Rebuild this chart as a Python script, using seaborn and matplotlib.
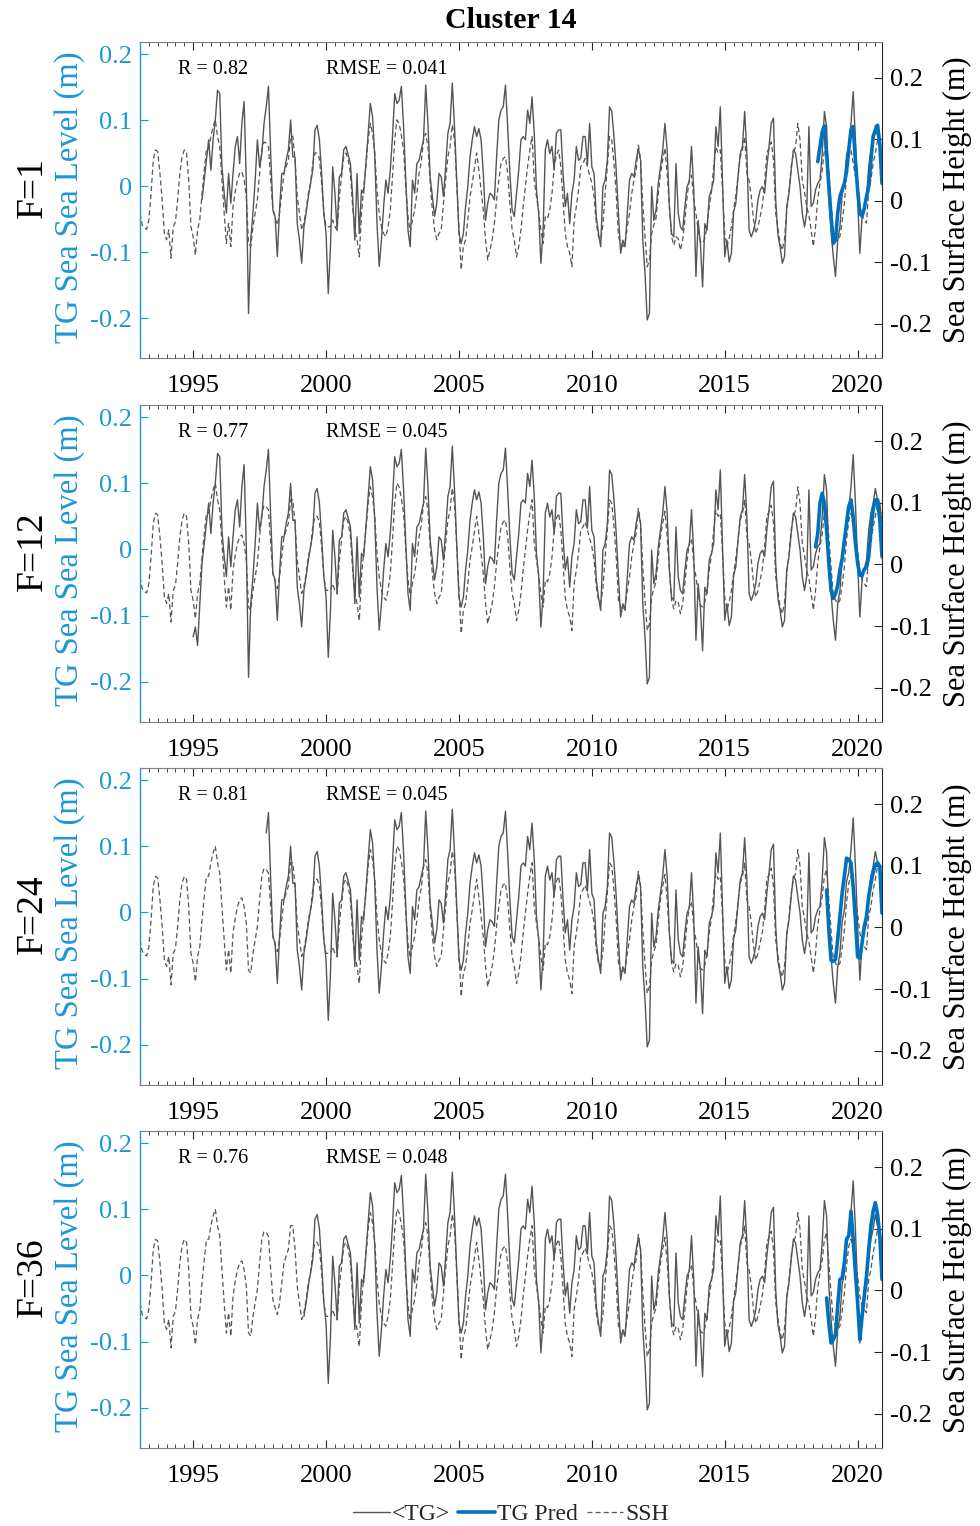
import numpy as np
import pandas as pd
import matplotlib
matplotlib.use("Agg")
import matplotlib.pyplot as plt
import seaborn as sns
from matplotlib.ticker import MultipleLocator, FixedLocator
from matplotlib.lines import Line2D

# ---------------- data (monthly) ----------------
ssh_start = 1993.0   # SSH series starts Jan 1993 (right axis, m)
ssh = [
    -0.020, -0.039, -0.044, -0.046, -0.031, 0.012, 0.067, 0.083, 0.080, 0.045, 0.002, -0.053,
    -0.063, -0.047, -0.093, -0.042, -0.034, 0.002, 0.045, 0.072, 0.083, 0.078, 0.034, -0.042,
    -0.058, -0.088, -0.047, -0.031, 0.012, 0.050, 0.083, 0.083, 0.105, 0.121, 0.132, 0.105,
    0.088, 0.034, -0.020, -0.069, -0.036, -0.074, -0.009, 0.015, 0.034, 0.045, 0.048, 0.034,
    0.007, -0.069, -0.074, -0.042, -0.020, 0.002, 0.045, 0.083, 0.096, 0.094, 0.088, 0.034,
    -0.015, -0.028, -0.039, -0.020, 0.012, 0.045, 0.056, 0.067, 0.105, 0.105, 0.067, 0.007,
    -0.020, -0.047, -0.036, -0.015, 0.012, 0.029, 0.061, 0.078, 0.078, 0.069, 0.029, -0.020,
    -0.042, -0.042, -0.042, -0.031, -0.042, -0.047, 0.007, 0.040, 0.072, 0.078, 0.067, 0.045,
    -0.009, -0.047, -0.063, -0.091, -0.020, 0.023, 0.056, 0.099, 0.126, 0.110, 0.078, 0.018,
    -0.020, -0.042, -0.053, -0.058, -0.042, -0.015, 0.040, 0.099, 0.132, 0.126, 0.107, 0.083,
    0.023, -0.025, -0.050, -0.031, -0.015, 0.012, 0.045, 0.064, 0.099, 0.110, 0.088, 0.029,
    -0.015, -0.047, -0.063, -0.053, -0.047, -0.004, 0.034, 0.072, 0.088, 0.124, 0.099, 0.029,
    -0.042, -0.112, -0.074, -0.063, -0.031, 0.007, 0.029, 0.053, 0.078, 0.050, 0.018, -0.015,
    -0.063, -0.096, -0.080, -0.063, -0.036, 0.002, 0.034, 0.061, 0.069, 0.072, 0.045, -0.004,
    -0.047, -0.063, -0.091, -0.074, -0.047, -0.009, 0.023, 0.056, 0.083, 0.105, 0.034, 0.007,
    -0.017, -0.047, -0.069, -0.025, -0.028, -0.015, 0.012, 0.056, 0.075, 0.083, 0.056, 0.002,
    -0.053, -0.074, -0.085, -0.107, -0.031, -0.009, 0.018, 0.056, 0.061, 0.069, 0.056, 0.042,
    0.029, 0.007, -0.036, -0.058, -0.063, -0.039, 0.012, 0.056, 0.105, 0.099, 0.061, 0.012,
    -0.058, -0.069, -0.074, -0.069, -0.042, -0.020, 0.012, 0.034, 0.050, 0.091, 0.067, -0.004,
    -0.058, -0.107, -0.096, -0.053, -0.039, -0.028, 0.012, 0.045, 0.067, 0.086, 0.045, -0.009,
    -0.058, -0.072, -0.058, -0.061, -0.080, -0.063, -0.031, 0.007, 0.034, 0.042, 0.002, -0.020,
    -0.047, -0.066, -0.069, -0.061, -0.042, -0.009, 0.015, 0.056, 0.088, 0.078, 0.083, 0.018,
    -0.053, -0.074, -0.061, -0.042, -0.015, 0.010, 0.040, 0.072, 0.083, 0.105, 0.045, 0.034,
    0.007, -0.031, -0.053, -0.042, -0.025, -0.007, 0.029, 0.078, 0.086, 0.096, 0.067, -0.020,
    -0.044, -0.069, -0.080, -0.061, -0.015, 0.015, 0.056, 0.078, 0.088, 0.126, 0.099, 0.034,
    0.015, -0.009, -0.023, -0.047, -0.074, -0.042, 0.004, 0.029, 0.050, 0.083, 0.094, 0.045,
    -0.004, -0.050, -0.058, -0.063, -0.058, -0.034, -0.004, 0.040, 0.072, 0.083, 0.061, 0.040,
    0.023, -0.009, -0.025, -0.031, -0.036, 0.018, 0.034, 0.061, 0.078, 0.099, 0.094, 0.083,
]

tg_start = 1995.0    # <TG> series starts Jan 1995 (left axis, m)
tg = [
    -0.132, -0.117, -0.145, -0.082, -0.021, 0.009, 0.039, 0.070, 0.024, 0.070, 0.100, 0.145,
    0.140, 0.029, -0.011, -0.041, 0.019, -0.026, 0.019, 0.060, 0.075, 0.034, 0.095, 0.128,
    0.004, -0.193, -0.082, -0.041, 0.009, 0.070, 0.029, 0.049, 0.095, 0.120, 0.151, 0.049,
    -0.036, -0.046, -0.107, -0.036, 0.019, 0.019, 0.039, 0.055, 0.100, 0.044, 0.044, -0.057,
    -0.082, -0.117, -0.062, -0.041, -0.016, 0.004, 0.024, 0.085, 0.092, 0.070, 0.019, -0.041,
    -0.072, -0.163, -0.092, 0.029, -0.011, -0.067, 0.014, 0.019, 0.055, 0.060, 0.047, 0.034,
    -0.016, -0.082, 0.019, -0.072, -0.006, -0.011, 0.034, 0.080, 0.125, 0.105, 0.044, -0.057,
    -0.122, -0.082, -0.031, 0.009, -0.011, 0.024, 0.075, 0.140, 0.125, 0.130, 0.151, 0.090,
    0.009, -0.067, -0.092, 0.009, -0.011, 0.034, 0.039, 0.055, 0.070, 0.153, 0.095, 0.014,
    -0.016, -0.046, -0.026, 0.019, 0.014, -0.016, 0.029, 0.080, 0.095, 0.156, 0.090, 0.009,
    -0.072, -0.087, -0.072, -0.031, -0.001, 0.044, 0.070, 0.090, 0.075, 0.087, 0.070, 0.019,
    -0.052, -0.026, -0.011, -0.014, -0.021, 0.044, 0.100, 0.115, 0.120, 0.153, 0.090, 0.019,
    -0.036, -0.046, -0.011, 0.024, 0.070, 0.075, 0.070, 0.115, 0.095, 0.135, 0.080, -0.006,
    -0.041, -0.117, -0.067, 0.055, 0.070, 0.049, 0.060, 0.024, 0.080, 0.085, 0.085, 0.019,
    -0.031, -0.011, -0.057, -0.011, 0.009, 0.060, 0.039, 0.042, 0.075, 0.075, 0.032, 0.095,
    0.029, 0.019, -0.046, -0.072, -0.092, -0.001, 0.009, 0.039, 0.120, 0.113, 0.075, 0.024,
    -0.041, -0.102, -0.082, -0.092, -0.041, 0.009, 0.019, 0.014, 0.039, 0.057, 0.039, -0.082,
    -0.132, -0.203, -0.193, -0.001, -0.052, -0.036, 0.004, 0.029, 0.055, 0.095, 0.055, -0.031,
    -0.072, -0.077, 0.034, -0.041, -0.062, -0.067, -0.031, -0.001, 0.007, 0.060, -0.006, -0.137,
    -0.052, -0.087, -0.153, -0.057, -0.067, -0.016, -0.006, 0.009, 0.090, 0.060, 0.120, 0.009,
    -0.107, -0.082, -0.115, -0.102, -0.039, -0.026, 0.014, 0.049, 0.060, 0.113, 0.049, -0.067,
    -0.077, -0.067, -0.052, -0.021, -0.006, -0.001, -0.011, 0.029, 0.060, 0.095, 0.103, -0.021,
    -0.074, -0.092, -0.117, -0.107, -0.031, -0.011, 0.024, 0.055, 0.049, 0.024, -0.001, -0.041,
    -0.062, -0.041, 0.090, -0.031, -0.026, -0.006, 0.004, 0.009, 0.049, 0.113, 0.090, -0.016,
    -0.067, -0.107, -0.137, -0.082, -0.062, -0.014, 0.004, 0.047, 0.060, 0.095, 0.143, 0.070,
    -0.021, -0.102, -0.046, -0.029, -0.016, 0.029, 0.055, 0.070, 0.092, 0.075, 0.070, 0.039,
]

# TG predictions (left axis, m), monthly from the given start
pred_f1 = [0.037, 0.059, 0.082, 0.091, 0.049, -0.001, -0.046, -0.087, -0.082, -0.041,
           -0.016, -0.006, 0.004, 0.022, 0.055, 0.085, 0.090, 0.039, -0.006, -0.041,
           -0.046, -0.034, -0.016, -0.001, 0.039, 0.075, 0.085, 0.092, 0.064, 0.004]
pred_f12 = [0.004, 0.024, 0.070, 0.085, 0.070, 0.029, -0.021, -0.062, -0.074, -0.067,
            -0.054, -0.031, -0.014, 0.014, 0.039, 0.065, 0.075, 0.049, 0.009, -0.021,
            -0.039, -0.039, -0.030, -0.027, -0.011, 0.029, 0.060, 0.075, 0.075, 0.044, -0.011]
pred_f24 = [0.034, -0.026, -0.072, -0.074, -0.071, -0.041, -0.006, 0.029, 0.055, 0.082,
            0.080, 0.075, 0.039, -0.011, -0.067, -0.069, -0.046, -0.021, -0.006, 0.024,
            0.044, 0.060, 0.072, 0.075, 0.070, -0.001]
pred_f36 = [-0.034, -0.072, -0.102, -0.097, -0.089, -0.046, -0.006, -0.004, 0.019, 0.055,
            0.060, 0.097, 0.055, 0.004, -0.041, -0.097, -0.062, -0.031, -0.001, 0.039,
            0.075, 0.097, 0.110, 0.092, 0.060, -0.006]

panel_names = ["F=1", "F=12", "F=24", "F=36"]
r_values = ["0.82", "0.77", "0.81", "0.76"]
rmse_values = ["0.041", "0.045", "0.045", "0.048"]
tg_first = [1995 + 4/12, 1995.0, 1997 + 9/12, 1999 + 2/12]     # first TG month shown
pred_first = [2018 + 6/12, 2018 + 5/12, 2018 + 10/12, 2018 + 10/12]
preds = [pred_f1, pred_f12, pred_f24, pred_f36]

year_ticks = [1995, 2000, 2005, 2010, 2015, 2020]
y_ticks = [-0.2, -0.1, 0, 0.1, 0.2]
y_tick_labels = ["-0.2", "-0.1", "0", "0.1", "0.2"]

# ---------------- styling ----------------
sns.set_theme(style="white")
plt.rcParams['font.family'] = ['Liberation Serif', 'DejaVu Serif']
plt.rcParams['axes.unicode_minus'] = False

GRAY = "#555555"
BLUE_LINE = "#0072BD"
BLUE_AX = "#1E96D6"
DARK = "#262626"

W, H = 980, 1526
fig = plt.figure(figsize=(W / 100, H / 100), dpi=100)

t_ssh = ssh_start + np.arange(len(ssh)) / 12.0
t_tg = tg_start + np.arange(len(tg)) / 12.0
x_end = ssh_start + (len(ssh) - 1) / 12.0

ax_left_px, ax_right_px = 140, 882
panel_px = [(42, 358), (405, 722), (768, 1085), (1131, 1448)]

tick_fs = 19
for i, (top, bot) in enumerate(panel_px):
    rect = [ax_left_px / W, 1 - bot / H, (ax_right_px - ax_left_px) / W, (bot - top) / H]
    ax = fig.add_axes(rect)
    ax2 = ax.twinx()
    ax.set_zorder(ax2.get_zorder() + 1)
    ax.patch.set_visible(False)

    # SSH on right axis (dashed)
    sns.lineplot(x=t_ssh, y=np.array(ssh), ax=ax2, color=GRAY, linewidth=0.9,
                 linestyle=(0, (4, 2.5)), legend=False)
    # observed TG on left axis
    m = t_tg >= tg_first[i] - 1e-6
    sns.lineplot(x=t_tg[m], y=np.array(tg)[m], ax=ax, color=GRAY, linewidth=1.0,
                 legend=False)
    # prediction
    p = preds[i]
    t_p = pred_first[i] + np.arange(len(p)) / 12.0
    sns.lineplot(x=t_p, y=np.array(p), ax=ax, color=BLUE_LINE, linewidth=2.6,
                 legend=False)

    ax.set_xlim(ssh_start, x_end)
    ax.set_ylim(-0.2606, 0.2182)
    ax2.set_ylim(-0.2553, 0.2585)

    ax.xaxis.set_major_locator(FixedLocator(year_ticks))
    ax.xaxis.set_minor_locator(MultipleLocator(1 / 3))
    ax.set_xticklabels([str(y) for y in year_ticks])
    ax.tick_params(axis='x', which='major', direction='in', top=True, bottom=True,
                   length=6, width=0.8, color=DARK, labelsize=tick_fs, pad=12,
                   labelcolor="black")
    ax.tick_params(axis='x', which='minor', direction='in', top=True, bottom=True,
                   length=3, width=0.6, color=DARK)

    ax.set_yticks(y_ticks)
    ax.set_yticklabels(y_tick_labels)
    ax.tick_params(axis='y', which='major', direction='in', left=True, right=False,
                   length=6, width=0.8, color=BLUE_AX, labelcolor=BLUE_AX,
                   labelsize=tick_fs, pad=6)
    ax2.set_yticks(y_ticks)
    ax2.set_yticklabels(y_tick_labels)
    ax2.tick_params(axis='y', which='major', direction='in', right=True, left=False,
                    length=6, width=0.8, color=DARK, labelcolor="black",
                    labelsize=tick_fs, pad=6)

    for sp in ['top', 'bottom']:
        ax.spines[sp].set_color("#7f7f7f")
        ax.spines[sp].set_linewidth(0.8)
    ax.spines['left'].set_color(BLUE_AX)
    ax.spines['left'].set_linewidth(1.0)
    ax.spines['right'].set_visible(False)
    ax2.spines['left'].set_visible(False)
    ax2.spines['top'].set_visible(False)
    ax2.spines['bottom'].set_visible(False)
    ax2.spines['right'].set_color(DARK)
    ax2.spines['right'].set_linewidth(0.8)

    ax.set_xlabel("")
    ax.set_ylabel("TG Sea Sea Level (m)", color=BLUE_AX, fontsize=23.5)
    ax.yaxis.set_label_coords((70 - ax_left_px) / (ax_right_px - ax_left_px), 0.51)
    ax.yaxis.label.set_va('center')
    ax2.set_ylabel("Sea Surface Height (m)", color="black", fontsize=22)
    ax2.yaxis.set_label_coords((957 - ax_left_px) / (ax_right_px - ax_left_px), 0.5)
    ax2.yaxis.label.set_va('center')

    ax.text(0.0512, 0.913, f"R = {r_values[i]}", transform=ax.transAxes,
            fontsize=14.5, ha='left', va='center', color="black")
    ax.text(0.2507, 0.913, f"RMSE = {rmse_values[i]}", transform=ax.transAxes,
            fontsize=14.5, ha='left', va='center', color="black")

    fig.text(33 / W, 1 - ((top + bot) / 2 - 12) / H, panel_names[i], rotation=90,
             fontsize=27, ha='center', va='center', color="black")

fig.text(511 / W, 1 - 20 / H, "Cluster 14", fontsize=21.5, fontweight='bold',
         ha='center', va='center', color="black")

handles = [Line2D([], [], color=GRAY, linewidth=1.0),
           Line2D([], [], color=BLUE_LINE, linewidth=2.6),
           Line2D([], [], color=GRAY, linewidth=0.9, linestyle=(0, (4, 2.5)))]
fig.legend(handles, ["<TG>", "TG Pred", "SSH"], loc='center',
           bbox_to_anchor=(511 / W, 1 - 1514 / H), ncol=3, frameon=False,
           fontsize=17, handlelength=1.55, handletextpad=0.1, columnspacing=0.35)

fig.savefig("out.png", dpi=100)
